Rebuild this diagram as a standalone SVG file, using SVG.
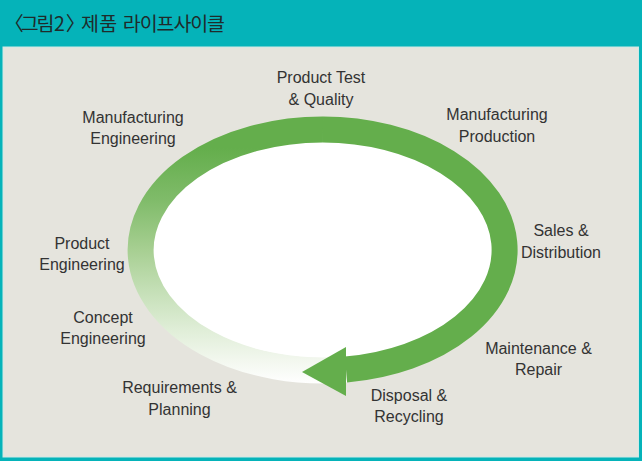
<svg xmlns="http://www.w3.org/2000/svg" width="642" height="461" viewBox="0 0 642 461">
  <defs>
    <style>
      .lbl { font-family: "Liberation Sans", Arial, sans-serif; font-size: 16px; fill: #333333; text-anchor: middle; }
      .title { font-family: "Noto Sans CJK KR", "Noto Sans", sans-serif; font-size: 19.5px; fill: #1f2b2b; }
    </style>
    <!-- vertical fade of the left half of the cycle ring -->
    <linearGradient id="fade" gradientUnits="userSpaceOnUse" x1="0" y1="116" x2="0" y2="384">
      <stop offset="0.12" stop-color="#64ae4c"/>
      <stop offset="0.31" stop-color="#7fbb69"/>
      <stop offset="0.50" stop-color="#a7cf92"/>
      <stop offset="0.65" stop-color="#c4dfb6"/>
      <stop offset="0.80" stop-color="#e0eed8"/>
      <stop offset="0.91" stop-color="#f2f7ee"/>
      <stop offset="1" stop-color="#ffffff"/>
    </linearGradient>
  </defs>

  <!-- frame and header -->
  <rect x="0" y="0" width="642" height="461" fill="#05b3b9"/>
  <rect x="3" y="47" width="635.5" height="410" fill="#e5e4dd" stroke="#cfe9e6" stroke-width="1"/>
  <!-- title: per-glyph dx keeps the brackets and syllables tightly set -->
  <text id="title" class="title" x="4.3" y="31" dx="0 -3.1 -2.2 -0.5 0.9 0 -8.6 0.3 0 1.3 -1.1 -1.1 -1.1 -1.1 -1.1">〈그림2〉 제품 라이프사이클</text>

  <!-- life-cycle ring -->
  <g id="cycle">
    <ellipse cx="323" cy="250" rx="170" ry="108" fill="#ffffff"/>
    <path d="M323 129.5 A182 120.5 0 1 0 346 369.5" fill="none" stroke="url(#fade)" stroke-width="26"/>
    <path d="M323 129.5 A182 120.5 0 0 1 346 369.5" fill="none" stroke="#64ae4c" stroke-width="26"/>
    <polygon points="302,372 346,347 346,396" fill="#64ae4c"/>
  </g>

  <!-- stage labels -->
  <g id="product-test">
    <text class="lbl" x="321" y="83">Product Test</text>
    <text class="lbl" x="321" y="105">&amp; Quality</text>
  </g>
  <g id="manufacturing-production">
    <text class="lbl" x="497" y="120">Manufacturing</text>
    <text class="lbl" x="497" y="141.5">Production</text>
  </g>
  <g id="sales-distribution">
    <text class="lbl" x="561" y="236">Sales &amp;</text>
    <text class="lbl" x="561" y="258">Distribution</text>
  </g>
  <g id="maintenance-repair">
    <text class="lbl" x="538.5" y="354">Maintenance &amp;</text>
    <text class="lbl" x="538.5" y="375">Repair</text>
  </g>
  <g id="disposal-recycling">
    <text class="lbl" x="409" y="401">Disposal &amp;</text>
    <text class="lbl" x="409" y="421.5">Recycling</text>
  </g>
  <g id="requirements-planning">
    <text class="lbl" x="179.5" y="393">Requirements &amp;</text>
    <text class="lbl" x="179.5" y="414.5">Planning</text>
  </g>
  <g id="concept-engineering">
    <text class="lbl" x="103" y="322.5">Concept</text>
    <text class="lbl" x="103" y="343.5">Engineering</text>
  </g>
  <g id="product-engineering">
    <text class="lbl" x="82" y="249">Product</text>
    <text class="lbl" x="82" y="270">Engineering</text>
  </g>
  <g id="manufacturing-engineering">
    <text class="lbl" x="133" y="123">Manufacturing</text>
    <text class="lbl" x="133" y="144">Engineering</text>
  </g>
</svg>
